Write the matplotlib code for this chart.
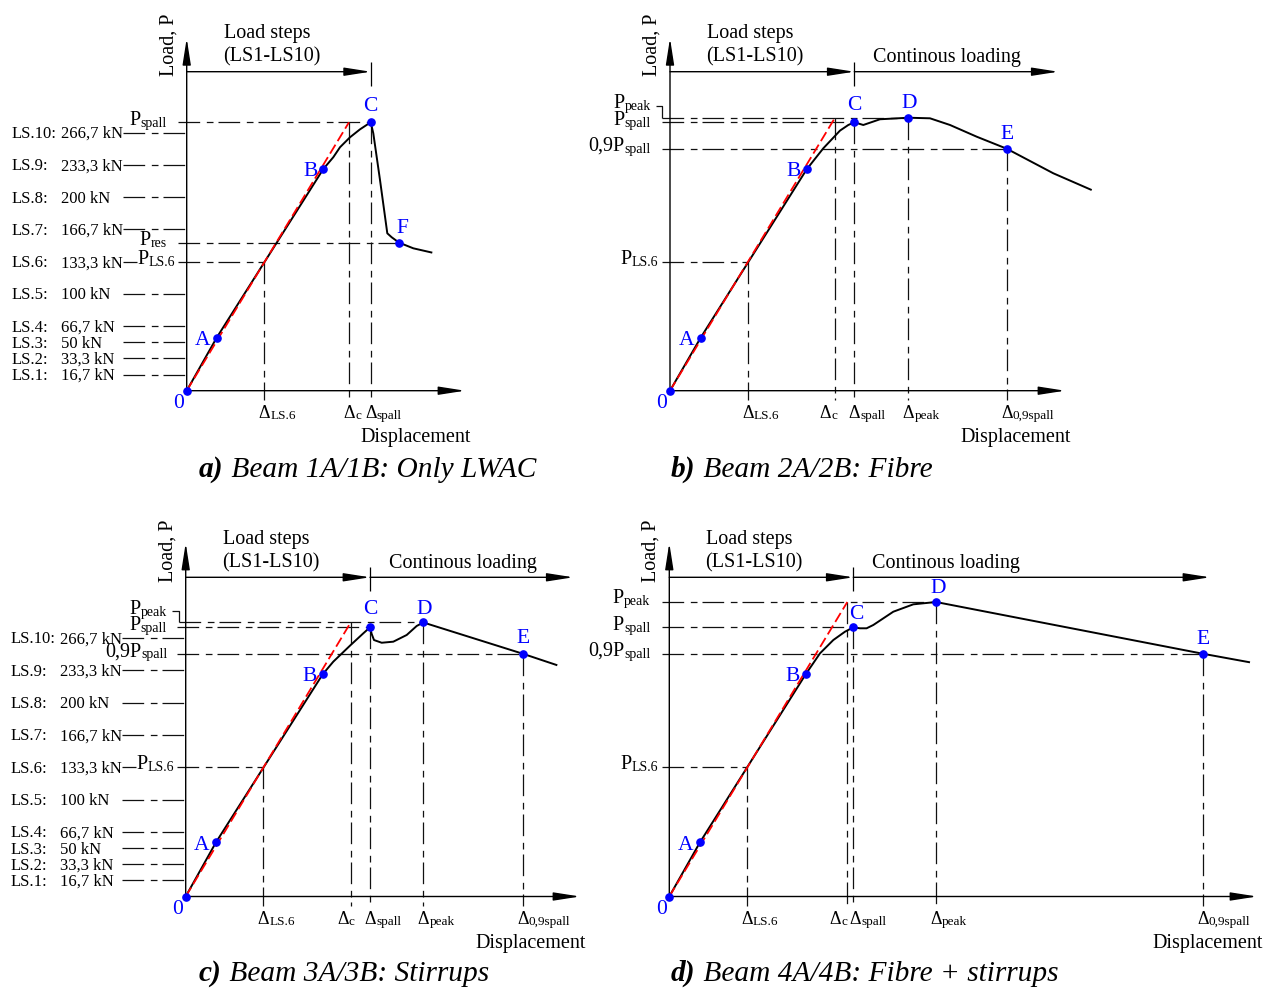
import matplotlib
matplotlib.use("Agg")
import matplotlib.pyplot as plt

plt.rcParams.update({
    "font.family": ["Liberation Serif", "DejaVu Serif"],
    "mathtext.fontset": "custom",
    "mathtext.rm": "Liberation Serif",
    "mathtext.it": "Liberation Serif:italic",
    "mathtext.bf": "Liberation Serif:bold",
    "lines.scale_dashes": False,
    "lines.solid_capstyle": "butt",
    "lines.dash_capstyle": "butt",
})

W, H, DPI = 1278, 988, 100
BLUE = "#0000ff"
RED = "#ff0000"
INK = "#111111"
DASHDOT = (0, (15.6, 4.8, 4.8, 3.6))
RED_DASH = (0, (7.5, 3.0))

# ---------------- data ----------------
LS_NAMES = ["LS.1:", "LS.2:", "LS.3:", "LS.4:", "LS.5:", "LS.6:", "LS.7:", "LS.8:", "LS.9:", "LS.10:"]
LS_LOADS = [16.7, 33.3, 50.0, 66.7, 100.0, 133.3, 166.7, 200.0, 233.3, 266.7]
LS_TEXTS = ["16,7 kN", "33,3 kN", "50 kN", "66,7 kN", "100 kN", "133,3 kN",
            "166,7 kN", "200 kN", "233,3 kN", "266,7 kN"]

# Panel a: Beam 1A/1B, only LWAC
a_disp = [0.0, 3.0, 13.66, 14.66, 15.33, 16.33, 17.33, 18.4, 18.66, 19.33, 20.06, 20.5,
          21.23, 22.66, 24.56]
a_load = [0.0, 54.8, 229.0, 241.2, 251.5, 261.8, 270.0, 277.3, 265.9, 217.7, 162.6, 158.5,
          153.0, 147.1, 142.6]
a_pt_names = ["0", "A", "B", "C", "F"]
a_pt_disp = [0.0, 3.0, 13.66, 18.4, 21.23]
a_pt_load = [0.0, 54.8, 229.0, 277.3, 153.0]
a_red_disp = [0.0, 16.23]
a_red_load = [0.0, 277.3]
a_lev_sub = ["spall", "res", "LS.6"]
a_lev_load = [277.3, 153.0, 133.3]
a_lev_to = [18.4, 21.23, 7.76]
a_del_sub = ["LS.6", "c", "spall"]
a_del_disp = [7.76, 16.23, 18.4]
a_del_from = [133.3, 277.3, 277.3]

# Panel b: Beam 2A/2B, fibre
b_disp = [0.0, 3.07, 13.67, 15.33, 17.0, 17.83, 18.43, 19.33, 21.0, 23.83, 26.0, 28.0,
          30.67, 33.67, 38.33, 42.17]
b_load = [0.0, 54.8, 228.7, 250.4, 268.7, 274.5, 277.3, 274.5, 280.4, 282.0, 281.4, 274.5,
          262.4, 250.0, 224.6, 207.3]
b_pt_names = ["0", "A", "B", "C", "D", "E"]
b_pt_disp = [0.0, 3.07, 13.67, 18.43, 23.83, 33.67]
b_pt_load = [0.0, 54.8, 228.7, 277.3, 282.0, 250.0]
b_red_disp = [0.0, 16.5]
b_red_load = [0.0, 282.0]
b_lev_sub = ["peak", "spall", "spall", "LS.6"]
b_lev_main = ["P", "P", "0,9P", "P"]
b_lev_load = [282.0, 277.3, 250.0, 133.3]
b_lev_to = [23.83, 18.43, 33.67, 7.77]
b_del_sub = ["LS.6", "c", "spall", "peak", "0,9spall"]
b_del_disp = [7.77, 16.5, 18.43, 23.83, 33.67]
b_del_from = [133.3, 282.0, 277.3, 282.0, 250.0]

# Panel c: Beam 3A/3B, stirrups
c_disp = [0.0, 3.03, 13.7, 14.76, 16.5, 17.76, 18.43, 18.6, 18.83, 19.6, 20.76, 22.1,
          23.1, 23.76, 33.7, 37.16]
c_load = [0.0, 55.9, 229.1, 242.1, 259.3, 271.3, 277.5, 270.6, 264.4, 261.6, 262.7, 269.6,
          278.9, 282.5, 250.3, 238.4]
c_pt_names = ["0", "A", "B", "C", "D", "E"]
c_pt_disp = [0.0, 3.03, 13.7, 18.43, 23.76, 33.7]
c_pt_load = [0.0, 55.9, 229.1, 277.5, 282.5, 250.3]
c_red_disp = [0.0, 16.5]
c_red_load = [0.0, 282.5]
c_lev_sub = ["peak", "spall", "spall", "LS.6"]
c_lev_main = ["P", "P", "0,9P", "P"]
c_lev_load = [282.5, 277.5, 250.3, 133.3]
c_lev_to = [23.76, 18.43, 33.7, 7.76]
c_del_sub = ["LS.6", "c", "spall", "peak", "0,9spall"]
c_del_disp = [7.76, 16.5, 18.43, 23.76, 33.7]
c_del_from = [133.3, 282.5, 277.5, 282.5, 250.3]

# Panel d: Beam 4A/4B, fibre + stirrups
d_disp = [0.0, 3.07, 13.64, 15.07, 16.4, 17.57, 18.4, 19.07, 19.73, 20.4, 22.4, 24.4,
          26.67, 53.34, 58.07]
d_load = [0.0, 55.9, 229.1, 250.7, 264.4, 273.0, 277.5, 276.5, 276.5, 279.9, 293.6, 301.2,
          303.6, 250.3, 241.4]
d_pt_names = ["0", "A", "B", "C", "D", "E"]
d_pt_disp = [0.0, 3.07, 13.64, 18.4, 26.67, 53.34]
d_pt_load = [0.0, 55.9, 229.1, 277.5, 303.6, 250.3]
d_red_disp = [0.0, 17.8]
d_red_load = [0.0, 303.6]
d_lev_sub = ["peak", "spall", "spall", "LS.6"]
d_lev_main = ["P", "P", "0,9P", "P"]
d_lev_load = [303.6, 277.5, 250.3, 133.3]
d_lev_to = [26.67, 18.4, 53.34, 7.74]
d_del_sub = ["LS.6", "c", "spall", "peak", "0,9spall"]
d_del_disp = [7.74, 17.8, 18.4, 26.67, 53.34]
d_del_from = [133.3, 303.6, 277.5, 303.6, 250.3]

CAPTIONS = [("a)", " Beam 1A/1B: Only LWAC"), ("b)", " Beam 2A/2B: Fibre"),
            ("c)", " Beam 3A/3B: Stirrups"), ("d)", " Beam 4A/4B: Fibre + stirrups")]

# ---------------- drawing ----------------
fig = plt.figure(figsize=(W / DPI, H / DPI), dpi=DPI)


def arrow(ax, p0, p1):
    ax.annotate("", xy=p1, xytext=p0, xycoords="data",
                arrowprops=dict(arrowstyle="-|>,head_length=1.6,head_width=0.25",
                                mutation_scale=10, lw=1.0, color="black",
                                shrinkA=0, shrinkB=0))


def two_part(ax, big, small, xy, dx, dy, big_fs, small_fs, ha, color="black"):
    if ha == "left":
        t1 = ax.annotate(big, xy=xy, xytext=(dx, dy), textcoords="offset pixels",
                         ha="left", va="baseline", fontsize=big_fs, color=color)
        ax.annotate(small, xy=(1, 0), xycoords=t1, ha="left", va="bottom",
                    fontsize=small_fs, color=color)
    else:
        t2 = ax.annotate(small, xy=xy, xytext=(dx, dy), textcoords="offset pixels",
                         ha="right", va="baseline", fontsize=small_fs, color=color)
        ax.annotate(big, xy=(0, 0), xycoords=t2, ha="right", va="bottom",
                    fontsize=big_fs, color=color)


def draw_panel(curve, pts, red, levels, deltas, L):
    ox, oy = L["origin"]
    sx, sy = 10.0, L["sy"]
    ax = fig.add_axes([0, 0, 1, 1])
    ax.set_xlim(-ox / sx, (W - ox) / sx)
    ax.set_ylim((oy - H) / sy, oy / sy)
    ax.set_axis_off()
    ax.patch.set_alpha(0)

    def px(v):
        return v / sx

    def py(v):
        return v / sy

    # coordinate arrows
    arrow(ax, (0, 0), (0, py(L["ytop"])))
    arrow(ax, (0, 0), (px(L["xend"]), 0))
    ax.annotate("Load, P", xy=(0, 0), xytext=(-18, 346), textcoords="offset pixels",
                rotation=90, ha="center", va="center", fontsize=14.5)
    ax.annotate("Displacement", xy=(px(L["xend"]), 0), xytext=(6, -51),
                textcoords="offset pixels", ha="right", va="baseline", fontsize=14.5)

    # load step / continuous loading arrows
    spall_x = L["spall_x"]
    ay = py(L["arrow_y"])
    arrow(ax, (0, ay), (spall_x, ay))
    ax.plot([spall_x, spall_x], [ay + py(10), ay - py(14)], color="black", lw=0.9)
    ax.annotate("Load steps", xy=(0, 0), xytext=(37, 352.5), textcoords="offset pixels",
                ha="left", va="baseline", fontsize=14.5)
    ax.annotate("(LS1-LS10)", xy=(0, 0), xytext=(36, 329), textcoords="offset pixels",
                ha="left", va="baseline", fontsize=14.5)
    if L.get("cont_end") is not None:
        arrow(ax, (spall_x, ay), (px(L["cont_end"]), ay))
        ax.annotate("Continous loading", xy=(0, 0), xytext=(203, 329),
                    textcoords="offset pixels", ha="left", va="baseline", fontsize=14.5)

    # load-step table
    if L.get("ls_table"):
        for name, load, text in zip(LS_NAMES, LS_LOADS, LS_TEXTS):
            ax.annotate(name, xy=(0, load), xytext=(-175, -5.5), textcoords="offset pixels",
                        ha="left", va="baseline", fontsize=12)
            ax.annotate(text, xy=(0, load), xytext=(-126, -5.5), textcoords="offset pixels",
                        ha="left", va="baseline", fontsize=12)
            if name == "LS.6:":
                ax.plot([px(-63.4), px(-50)], [load, load], color=INK, lw=0.9)
            else:
                ax.plot([px(-63.4), 0], [load, load], color=INK, lw=0.9, ls=DASHDOT)

    # horizontal reference levels
    mains, subs, loads, tos, offs = levels
    for main, sub, load, to, (rx, by, start, brk) in zip(mains, subs, loads, tos, offs):
        ax.plot([px(start), to], [load, load], color=INK, lw=0.9, ls=DASHDOT)
        two_part(ax, main, sub, (0, load), rx, by, 14.5, 10, "right")
        if brk is not None:
            ax.plot([px(-14), px(start), px(start)],
                    [load + py(brk), load + py(brk), load], color=INK, lw=0.9)

    # vertical reference lines and delta labels
    dsubs, ddisp, dfrom, ddx = deltas
    for sub, x, y0, dx in zip(dsubs, ddisp, dfrom, ddx):
        ax.plot([x, x], [y0, py(-9)], color=INK, lw=0.9, ls=DASHDOT)
        two_part(ax, "\u0394", sub, (x, 0), -5.5 + dx, -27.6, 13, 9.5, "left")

    # red secant and measured curve
    ax.plot(red[0], red[1], color=RED, lw=1.3, ls=RED_DASH, zorder=4)
    ax.plot(curve[0], curve[1], color="black", lw=1.4, zorder=3,
            solid_joinstyle="round")

    # points
    names, pdisp, pload = pts
    ax.plot(pdisp, pload, "o", color=BLUE, ms=5.2, zorder=5)
    for n, x, y in zip(names, pdisp, pload):
        dx, dy = L["pt_off"][n]
        ax.annotate(n, xy=(x, y), xytext=(dx, dy), textcoords="offset pixels",
                    ha="center", va="center", fontsize=15.5, color=BLUE)
    return ax


def caption(x, y, bold, rest):
    t = fig.text(x / W, 1 - y / H, bold, fontsize=21.2, style="italic", weight="bold",
                 ha="left", va="baseline")
    fig.axes[0].annotate(rest, xy=(1, 0), xycoords=t, ha="left", va="bottom",
                         fontsize=21.2, style="italic")


PT_OFF_BASE = {"0": (-8, -13), "A": (-14, -3), "B": (-13, -2)}

# panel a
draw_panel((a_disp, a_load), (a_pt_names, a_pt_disp, a_pt_load), (a_red_disp, a_red_load),
           (["P", "P", "P"], a_lev_sub, a_lev_load, a_lev_to,
            [(-20, -4.4, -8.4, None), (-20, -4.4, -8.4, None), (-11.5, -4.0, -8.4, None)]),
           (a_del_sub, a_del_disp, a_del_from, [0, 0, 0]),
           dict(origin=(186.7, 390.7), sy=0.968, ytop=352.4, xend=278.3, arrow_y=319,
                spall_x=18.4, cont_end=None, ls_table=True,
                pt_off=dict(PT_OFF_BASE, C=(0, 16), F=(3, 14))))

# panel b
draw_panel((b_disp, b_load), (b_pt_names, b_pt_disp, b_pt_load), (b_red_disp, b_red_load),
           (b_lev_main, b_lev_sub, b_lev_load, b_lev_to,
            [(-19, 7.7, -8.3, 11.7), (-19, -5, -8.3, None), (-19, -4, -8.3, None),
             (-11.5, -4, -8.3, None)]),
           (b_del_sub, b_del_disp, b_del_from, [0, -10, 0, 0, 0]),
           dict(origin=(670.0, 390.7), sy=0.968, ytop=352.4, xend=395.0, arrow_y=319,
                spall_x=18.43, cont_end=388.3, ls_table=False,
                pt_off=dict(PT_OFF_BASE, C=(0, 17), D=(1, 14), E=(0, 14))))

# panel c
draw_panel((c_disp, c_load), (c_pt_names, c_pt_disp, c_pt_load), (c_red_disp, c_red_load),
           (c_lev_main, c_lev_sub, c_lev_load, c_lev_to,
            [(-19, 6.7, -6.7, 11.0), (-19, -5, -9, None), (-18, -4.5, -8.3, None),
             (-11.5, -4, -8.3, None)]),
           (c_del_sub, c_del_disp, c_del_from, [0, -8, 0, 0, 0]),
           dict(origin=(185.7, 896.5), sy=0.97, ytop=353.5, xend=394.3, arrow_y=319.2,
                spall_x=18.43, cont_end=387.6, ls_table=True,
                pt_off=dict(PT_OFF_BASE, C=(0, 18), D=(1, 13), E=(0, 15))))

# panel d
draw_panel((d_disp, d_load), (d_pt_names, d_pt_disp, d_pt_load), (d_red_disp, d_red_load),
           (d_lev_main, d_lev_sub, d_lev_load, d_lev_to,
            [(-19, -3, -7, None), (-19, -5, -7, None), (-19, -4, -7, None),
             (-11.3, -4, -7, None)]),
           (d_del_sub, d_del_disp, d_del_from, [0, -12, 2, 0, 0]),
           dict(origin=(669.3, 896.5), sy=0.97, ytop=353.5, xend=587.7, arrow_y=319.2,
                spall_x=18.4, cont_end=540.7, ls_table=False,
                pt_off=dict(PT_OFF_BASE, C=(3, 13), D=(2, 14), E=(0, 14))))

for (bold, rest), (x, y) in zip(CAPTIONS, [(199, 477), (671, 477), (199, 981), (671, 981)]):
    caption(x, y, bold, rest)

fig.savefig("out.png", dpi=DPI)
